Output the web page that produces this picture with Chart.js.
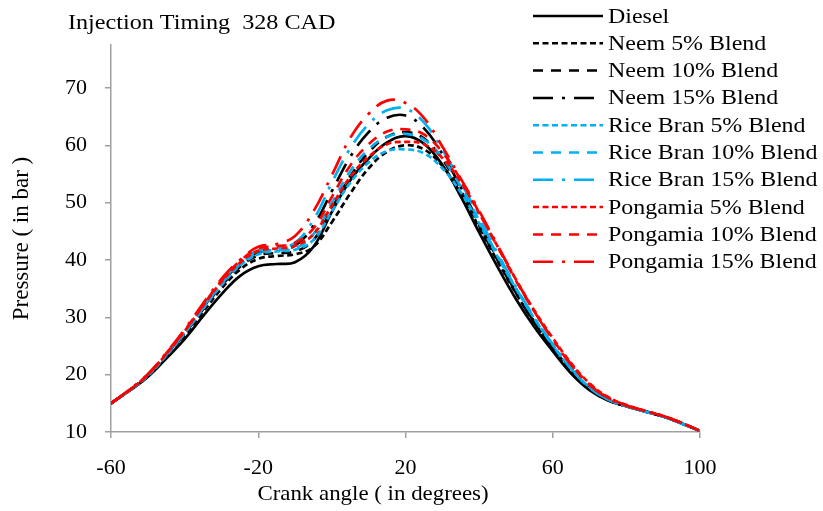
<!DOCTYPE html>
<html>
<head>
<meta charset="utf-8">
<title>Injection Timing 328 CAD</title>
<script src="https://cdn.jsdelivr.net/npm/chart.js@4.4.1/dist/chart.umd.min.js"></script>
<style>
    body { margin: 0; background: #fff; }
</style>
</head>
<body>
<canvas id="pressureChart" width="823" height="511"></canvas>
<script>
// Crank angle (degrees) and pressure (bar)
const crankAngles = [-60, -55, -50, -45, -40, -35, -30, -25, -20, -15, -10, -5, 0, 5, 10, 15, 20,
                     25, 30, 35, 40, 45, 50, 55, 60, 65, 70, 75, 80, 85, 90, 95, 100];

const diesel   = [15.0, 17.2, 19.6, 22.8, 26.2, 30.2, 34.0, 37.2, 38.9, 39.3, 39.6, 42.3, 48.4, 53.9, 57.7, 60.5, 61.6,
                  60.3, 56.6, 51.1, 44.8, 38.8, 33.2, 28.3, 24.1, 20.2, 17.3, 15.5, 14.5, 13.6, 12.7, 11.5, 10.2];
const neem5    = [15.0, 17.2, 19.7, 23.1, 26.7, 30.9, 35.0, 38.3, 40.2, 40.7, 41.0, 42.3, 46.6, 51.6, 56.0, 58.9, 60.0,
                  59.3, 56.4, 51.6, 45.7, 39.8, 34.2, 29.1, 24.7, 20.8, 17.6, 15.6, 14.5, 13.6, 12.7, 11.5, 10.2];
const neem10   = [15.0, 17.3, 19.8, 23.3, 27.1, 31.4, 35.5, 38.8, 40.8, 41.2, 41.5, 43.5, 49.0, 54.6, 58.8, 61.5, 62.3,
                  61.2, 57.6, 52.2, 46.0, 40.0, 34.3, 29.1, 24.6, 20.7, 17.5, 15.6, 14.5, 13.6, 12.7, 11.5, 10.2];
const neem15   = [15.0, 17.3, 19.9, 23.5, 27.4, 31.7, 35.9, 39.3, 41.3, 41.8, 42.5, 46.0, 52.0, 58.0, 62.3, 64.8, 65.2,
                  63.0, 58.5, 52.7, 46.4, 40.2, 34.4, 29.2, 24.7, 20.8, 17.6, 15.6, 14.5, 13.6, 12.7, 11.5, 10.2];
const riceBran5  = [15.0, 17.2, 19.8, 23.3, 27.2, 31.5, 35.6, 39.0, 41.0, 41.5, 41.8, 43.5, 48.5, 53.5, 57.0, 59.0, 59.3,
                    58.6, 56.0, 51.8, 46.4, 40.6, 35.0, 29.8, 25.2, 21.0, 17.8, 15.7, 14.5, 13.6, 12.7, 11.5, 10.2];
const riceBran10 = [15.0, 17.3, 19.9, 23.4, 27.3, 31.6, 35.8, 39.2, 41.3, 41.8, 42.0, 44.5, 50.0, 55.5, 59.3, 61.5, 62.0,
                    61.0, 57.8, 52.8, 46.9, 40.8, 35.1, 29.8, 25.1, 21.0, 17.7, 15.7, 14.5, 13.6, 12.7, 11.5, 10.2];
const riceBran15 = [15.0, 17.3, 20.0, 23.6, 27.5, 31.8, 36.0, 39.6, 41.6, 42.0, 43.0, 47.0, 53.5, 59.5, 63.7, 66.1, 66.4,
                    64.0, 59.3, 53.6, 47.4, 41.2, 35.3, 30.0, 25.3, 21.1, 17.8, 15.7, 14.5, 13.6, 12.7, 11.5, 10.2];
const pongamia5  = [15.0, 17.3, 20.0, 23.6, 27.6, 32.0, 36.2, 39.5, 41.6, 42.0, 42.5, 44.5, 49.5, 54.5, 58.0, 60.2, 60.6,
                    60.2, 57.8, 53.6, 48.2, 42.4, 36.6, 31.2, 26.4, 22.0, 18.5, 16.1, 14.7, 13.7, 12.8, 11.6, 10.2];
const pongamia10 = [15.0, 17.3, 20.0, 23.7, 27.7, 32.1, 36.4, 39.8, 42.0, 42.4, 43.0, 45.5, 51.0, 56.5, 60.2, 62.4, 62.8,
                    61.9, 58.8, 54.0, 48.3, 42.3, 36.4, 31.0, 26.2, 21.8, 18.3, 16.0, 14.7, 13.7, 12.8, 11.6, 10.2];
const pongamia15 = [15.0, 17.4, 20.1, 23.8, 27.9, 32.4, 36.7, 40.0, 42.3, 42.8, 44.2, 48.5, 54.8, 61.3, 65.5, 67.8, 67.4,
                    64.8, 59.8, 54.2, 48.6, 42.6, 36.6, 31.0, 26.1, 21.7, 18.2, 15.9, 14.6, 13.7, 12.8, 11.6, 10.2];

const seriesNames = ['Diesel', 'Neem 5% Blend', 'Neem 10% Blend', 'Neem 15% Blend',
                     'Rice Bran 5% Blend', 'Rice Bran 10% Blend', 'Rice Bran 15% Blend',
                     'Pongamia 5% Blend', 'Pongamia 10% Blend', 'Pongamia 15% Blend'];
const seriesValues = [diesel, neem5, neem10, neem15, riceBran5, riceBran10, riceBran15,
                      pongamia5, pongamia10, pongamia15];

const yTicks = [10, 20, 30, 40, 50, 60, 70];

// styles
const BLACK = '#000000', BLUE = '#00b0f0', RED = '#ff0000';
const seriesColors = [BLACK, BLACK, BLACK, BLACK, BLUE, BLUE, BLUE, RED, RED, RED];
const SOLID = [], SHORT_DASH = [6, 3.5], DASH = [10, 8], DASH_DOT = [20, 9, 3, 9];
const seriesDashes = [SOLID, SHORT_DASH, DASH, DASH_DOT, SHORT_DASH, DASH, DASH_DOT, SHORT_DASH, DASH, DASH_DOT];

const FONT = "'Liberation Serif', 'Times New Roman', serif";
const AXIS_GREY = '#a0a0a0';

const datasets = seriesNames.map((name, i) => ({
    label: name,
    data: crankAngles.map((x, j) => ({ x: x, y: seriesValues[i][j] })),
    borderColor: seriesColors[i],
    borderDash: seriesDashes[i],
    borderWidth: 2.7,
    pointRadius: 0,
    fill: false,
    tension: 0.4,
    order: seriesNames.length - i // later series drawn on top
}));

// title, x-axis caption and legend drawn as overlay text
const overlayText = {
    id: 'overlayText',
    afterDraw(chart) {
        const ctx = chart.ctx;
        const stretched = (text, x, y, size, sx, align) => {
            ctx.save();
            ctx.font = size + 'px ' + FONT;
            ctx.fillStyle = '#000';
            ctx.textBaseline = 'middle';
            ctx.textAlign = align || 'left';
            ctx.translate(x, y);
            ctx.scale(sx, 1);
            ctx.fillText(text, 0, 0);
            ctx.restore();
        };

        stretched('Injection Timing  328 CAD', 68, 23, 21, 1.15);
        stretched('Crank angle ( in degrees)', 373, 494, 22, 1.04, 'center');

        chart.data.datasets.forEach((ds, i) => {
            const y = 16 + i * 27.3;
            ctx.save();
            ctx.strokeStyle = ds.borderColor;
            ctx.lineWidth = 2.5;
            ctx.setLineDash(ds.borderDash);
            ctx.beginPath();
            ctx.moveTo(533, y);
            ctx.lineTo(603, y);
            ctx.stroke();
            ctx.restore();
            stretched(ds.label, 608, y + 1, 21, 1.14);
        });
    }
};

new Chart(document.getElementById('pressureChart'), {
    type: 'line',
    data: { datasets: datasets },
    plugins: [overlayText],
    options: {
        responsive: false,
        animation: false,
        layout: { padding: { top: 45, right: 123, bottom: 0, left: 0 } },
        plugins: {
            legend: { display: false },
            title: { display: false },
            tooltip: { enabled: false }
        },
        scales: {
            x: {
                type: 'linear',
                min: -60,
                max: 100,
                afterFit: scale => { scale.height = 79; },
                ticks: {
                    stepSize: 40,
                    padding: 17,
                    color: '#000',
                    font: { family: FONT, size: 22 }
                },
                grid: { drawOnChartArea: false, tickLength: 6, color: AXIS_GREY, lineWidth: 1.5 },
                border: { color: AXIS_GREY, width: 1.5 }
            },
            y: {
                min: 10,
                max: 77.5,
                afterFit: scale => { scale.width = 111; },
                afterBuildTicks: scale => {
                    scale.ticks = yTicks.map(v => ({ value: v }));
                },
                ticks: {
                    stepSize: 10,
                    padding: 18,
                    color: '#000',
                    font: { family: FONT, size: 22 }
                },
                grid: { drawOnChartArea: false, tickLength: 6, color: AXIS_GREY, lineWidth: 1.5 },
                border: { color: AXIS_GREY, width: 1.5 },
                title: {
                    display: true,
                    text: 'Pressure ( in bar )',
                    color: '#000',
                    font: { family: FONT, size: 23 },
                    padding: { top: 8, bottom: 0 }
                }
            }
        }
    }
});
</script>
</body>
</html>
